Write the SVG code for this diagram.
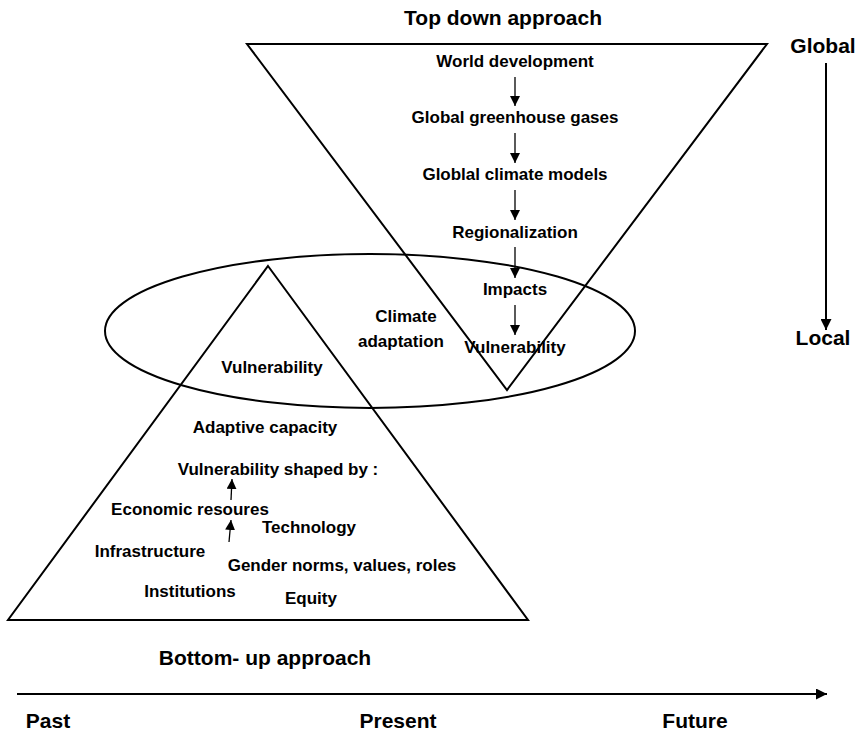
<svg xmlns="http://www.w3.org/2000/svg" width="860" height="733" viewBox="0 0 860 733">
<style>
.t{font-family:"Liberation Sans",Arial,sans-serif;font-weight:bold;fill:#000;text-anchor:middle}
.b{font-size:21px}
.s{font-size:17px}
.shape{fill:none;stroke:#000;stroke-width:2}
.arr{stroke:#000;stroke-width:1.3;fill:none}
.arrL{stroke:#000;stroke-width:2;fill:none}
</style>
<defs>
<marker id="ah" viewBox="0 0 10 10" refX="10" refY="5" markerWidth="10" markerHeight="10" markerUnits="userSpaceOnUse" orient="auto"><path d="M0,0 L10,5 L0,10 z" fill="#000"/></marker>
<marker id="ahL" viewBox="0 0 10 10" refX="10" refY="5" markerWidth="11" markerHeight="11" markerUnits="userSpaceOnUse" orient="auto"><path d="M0,0 L10,5 L0,10 z" fill="#000"/></marker>
</defs>
<g id="shapes">
<polygon id="top-triangle" class="shape" points="247,44 767,44 507,390"/>
<ellipse id="adaptation-ellipse" class="shape" cx="370" cy="331" rx="265" ry="77"/>
<polygon id="bottom-triangle" class="shape" points="268,266 528,620 8,620"/>
</g>
<g id="labels-top">
<text class="t b" x="503" y="25">Top down approach</text>
<g id="n-world"><text class="t s" x="515" y="67">World development</text></g>
<g id="n-ghg"><text class="t s" x="515" y="123">Global greenhouse gases</text></g>
<g id="n-gcm"><text class="t s" x="515" y="180">Globlal climate models</text></g>
<g id="n-reg"><text class="t s" x="515" y="238">Regionalization</text></g>
<g id="n-imp"><text class="t s" x="515" y="295">Impacts</text></g>
<g id="n-vul-top"><text class="t s" x="515" y="353">Vulnerability</text></g>
</g>
<g id="n-climate"><text class="t s" x="406" y="322">Climate</text><text class="t s" x="401" y="347">adaptation</text></g>
<g id="labels-bottom">
<g id="n-vul-bottom"><text class="t s" x="272" y="373">Vulnerability</text></g>
<g id="n-adcap"><text class="t s" x="265" y="433">Adaptive capacity</text></g>
<g id="n-shaped"><text class="t s" x="278" y="475">Vulnerability shaped by :</text></g>
<g id="n-econ"><text class="t s" x="190" y="515">Economic resoures</text></g>
<g id="n-tech"><text class="t s" x="309" y="533">Technology</text></g>
<g id="n-infra"><text class="t s" x="150" y="557">Infrastructure</text></g>
<g id="n-gender"><text class="t s" x="342" y="571">Gender norms, values, roles</text></g>
<g id="n-inst"><text class="t s" x="190" y="597">Institutions</text></g>
<g id="n-equity"><text class="t s" x="311" y="604">Equity</text></g>
<text class="t b" x="265" y="665">Bottom- up approach</text>
</g>
<g id="axes">
<g id="n-global"><text class="t b" x="823" y="53">Global</text></g>
<g id="n-local"><text class="t b" x="823" y="345">Local</text></g>
<g id="n-past"><text class="t b" x="48" y="728">Past</text></g>
<g id="n-present"><text class="t b" x="398" y="728">Present</text></g>
<g id="n-future"><text class="t b" x="695" y="728">Future</text></g>
</g>
<g id="connectors">
<line class="arr" x1="515" y1="77" x2="515" y2="106" marker-end="url(#ah)"/>
<line class="arr" x1="515" y1="133" x2="515" y2="163" marker-end="url(#ah)"/>
<line class="arr" x1="515" y1="190" x2="515" y2="220" marker-end="url(#ah)"/>
<line class="arr" x1="515" y1="247" x2="515" y2="278" marker-end="url(#ah)"/>
<line class="arr" x1="515" y1="305" x2="515" y2="335" marker-end="url(#ah)"/>
<line class="arr" x1="231" y1="500" x2="232" y2="479" marker-end="url(#ah)"/>
<line class="arr" x1="229" y1="542" x2="231" y2="520" marker-end="url(#ah)"/>
<line class="arrL" x1="826" y1="63" x2="826" y2="330" marker-end="url(#ahL)"/>
<line class="arrL" x1="17" y1="694" x2="827" y2="694" marker-end="url(#ahL)"/>
</g>
</svg>
